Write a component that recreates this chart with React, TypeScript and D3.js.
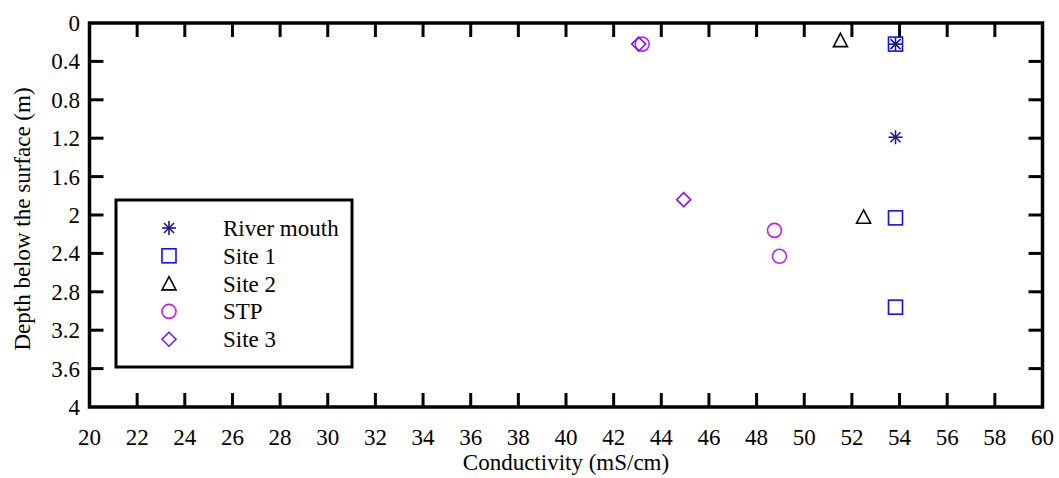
import React from "react";
import * as d3 from "d3";

const xTicks = [20, 22, 24, 26, 28, 30, 32, 34, 36, 38, 40, 42, 44, 46, 48, 50, 52, 54, 56, 58, 60];
const yTicks = [0, 0.4, 0.8, 1.2, 1.6, 2, 2.4, 2.8, 3.2, 3.6, 4];
const yTickLabels = ["0", "0.4", "0.8", "1.2", "1.6", "2", "2.4", "2.8", "3.2", "3.6", "4"];

const riverMouthX = [53.83, 53.83];
const riverMouthY = [0.22, 1.19];
const site1X = [53.83, 53.83, 53.83];
const site1Y = [0.22, 2.03, 2.96];
const site2X = [51.52, 52.49];
const site2Y = [0.18, 2.02];
const stpX = [43.2, 48.75, 48.96];
const stpY = [0.22, 2.16, 2.43];
const site3X = [43.05, 44.94];
const site3Y = [0.22, 1.84];

const seriesNames = ["River mouth", "Site 1", "Site 2", "STP", "Site 3"];
const seriesColors = ["#1a1a80", "#1010ff", "#000000", "#bb22ee", "#7a1cf0"];
const seriesShapes = ["asterisk", "square", "triangle", "circle", "diamond"];
const seriesX = [riverMouthX, site1X, site2X, stpX, site3X];
const seriesY = [riverMouthY, site1Y, site2Y, stpY, site3Y];

const W = 1059, H = 478;
const L = 89.5, R = 1042.5, T = 23, B = 407;
const FONT = "Liberation Serif, Times New Roman, Times, DejaVu Serif, serif";

function Marker({ shape, cx, cy, color }: { shape: string; cx: number; cy: number; color: string }) {
  const s = 7;
  const sw = 1.6;
  if (shape === "square") {
    return <rect x={cx - s} y={cy - s} width={2 * s} height={2 * s} fill="none" stroke={color} strokeWidth={sw} />;
  }
  if (shape === "circle") {
    return <circle cx={cx} cy={cy} r={s} fill="none" stroke={color} strokeWidth={sw} />;
  }
  if (shape === "triangle") {
    const p = `${cx},${cy - s} ${cx + s},${cy + s * 0.9} ${cx - s},${cy + s * 0.9}`;
    return <polygon points={p} fill="none" stroke={color} strokeWidth={sw} />;
  }
  if (shape === "diamond") {
    const p = `${cx},${cy - s} ${cx + s},${cy} ${cx},${cy + s} ${cx - s},${cy}`;
    return <polygon points={p} fill="none" stroke={color} strokeWidth={sw} />;
  }
  const d = s * 0.72;
  return (
    <g stroke={color} strokeWidth={sw}>
      <line x1={cx} y1={cy - s} x2={cx} y2={cy + s} />
      <line x1={cx - s} y1={cy} x2={cx + s} y2={cy} />
      <line x1={cx - d} y1={cy - d} x2={cx + d} y2={cy + d} />
      <line x1={cx - d} y1={cy + d} x2={cx + d} y2={cy - d} />
    </g>
  );
}

export default function App() {
  const x = d3.scaleLinear().domain([20, 60]).range([L, R]);
  const y = d3.scaleLinear().domain([0, 4]).range([T, B]);
  const tickLen = 14;

  const legX = 116, legY = 200, legW = 236, legH = 167;
  const rowY0 = 228, rowStep = 27.8;

  return (
    <svg width={W} height={H} style={{ position: "absolute", left: 0, top: 0, background: "#fff", fontFamily: FONT }}>
      <rect x={0} y={0} width={W} height={H} fill="#fff" />
      <g stroke="#000" strokeWidth={3}>
        {xTicks.slice(1, -1).map((t) => (
          <g key={"xt" + t}>
            <line x1={x(t)} x2={x(t)} y1={B} y2={B - tickLen} />
            <line x1={x(t)} x2={x(t)} y1={T} y2={T + tickLen} />
          </g>
        ))}
        {yTicks.slice(1, -1).map((t) => (
          <g key={"yt" + t}>
            <line x1={L} x2={L + tickLen} y1={y(t)} y2={y(t)} />
            <line x1={R} x2={R - tickLen} y1={y(t)} y2={y(t)} />
          </g>
        ))}
      </g>
      <rect x={L} y={T} width={R - L} height={B - T} fill="none" stroke="#000" strokeWidth={3.5} />

      <g style={{ fontFamily: FONT }} fontSize={23} fill="#000">
        {xTicks.map((t) => (
          <text key={"xl" + t} x={x(t)} y={445} textAnchor="middle">{t}</text>
        ))}
        {yTicks.map((t, i) => (
          <text key={"yl" + t} x={80} y={y(t)} dy="0.35em" textAnchor="end">{yTickLabels[i]}</text>
        ))}
        <text x={(L + R) / 2} y={470} textAnchor="middle">Conductivity (mS/cm)</text>
        <text transform={`translate(30, ${(T + B) / 2 + 4}) rotate(-90)`} textAnchor="middle">Depth below the surface (m)</text>
      </g>

      {seriesNames.map((name, si) =>
        seriesX[si].map((vx, i) => (
          <Marker key={name + i} shape={seriesShapes[si]} cx={x(vx)} cy={y(seriesY[si][i])} color={seriesColors[si]} />
        ))
      )}

      <rect x={legX} y={legY} width={legW} height={legH} fill="#fff" stroke="#000" strokeWidth={3} />
      <g style={{ fontFamily: FONT }} fontSize={23} fill="#000">
        {seriesNames.map((name, si) => (
          <g key={"lg" + name}>
            <Marker shape={seriesShapes[si]} cx={169} cy={rowY0 + si * rowStep} color={seriesColors[si]} />
            <text x={223} y={rowY0 + si * rowStep} dy="0.35em">{name}</text>
          </g>
        ))}
      </g>
    </svg>
  );
}
